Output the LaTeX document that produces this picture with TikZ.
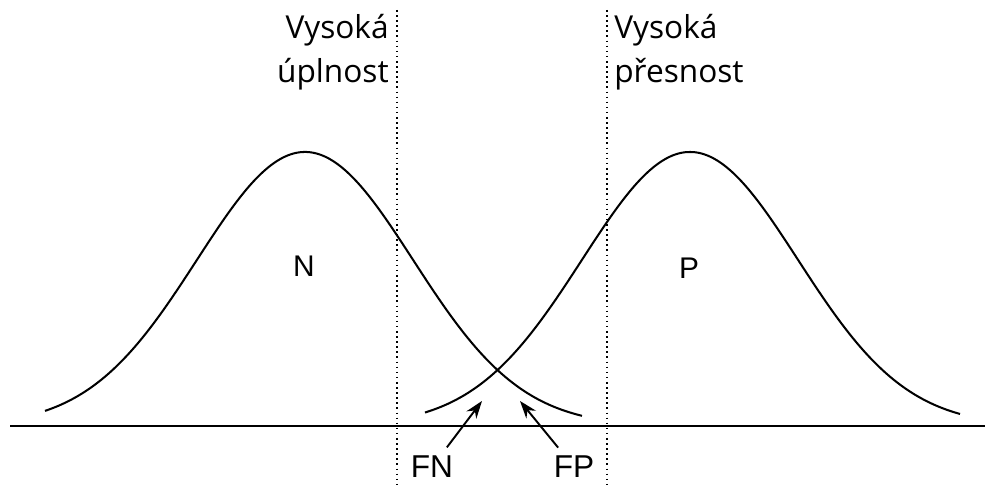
\documentclass[tikz,border=0pt]{standalone}
\usepackage{fontspec}
\setmainfont{Liberation Sans}
\newfontfamily\toplabelfont{Open Sans}
\usetikzlibrary{arrows.meta,positioning}

\begin{document}
\begin{tikzpicture}[
    x=0.02cm, y=-0.02cm,
    curve/.style={line width=1.15pt},
    axis/.style={line width=1.5pt},
    threshold/.style={dotted,line width=0.9pt},
    toplabel/.style={font=\toplabelfont\fontsize{18}{25}\selectfont,inner sep=0pt},
    classlabel/.style={font=\fontsize{17}{20}\selectfont,inner sep=0pt},
    errlabel/.style={font=\fontsize{18}{20}\selectfont,inner sep=0pt},
    arrow/.style={-{Stealth[length=10pt,width=7pt]},line width=1.1pt,shorten <=6pt}
  ]
    \useasboundingbox (0,0) rectangle (985,486);

    % axis and thresholds
    \draw[axis] (10,426) -- (985,426);
    \draw[threshold] (397,10) -- (397,486);
    \draw[threshold] (607,10) -- (607,486);

    % the two classes
    \draw[curve] plot[domain=45:582,samples=120,smooth]
      (\x,{426-274*exp(-0.5*((\x-305)/108)^2)});
    \draw[curve] plot[domain=425:960,samples=120,smooth]
      (\x,{426-274*exp(-0.5*((\x-690)/108)^2)});

    \node[toplabel,anchor=north east,align=right] (recall) at (389,14) {Vysoká\\úplnost};
    \node[toplabel,anchor=north west,align=left]  (precision) at (614,14) {Vysoká\\přesnost};

    \node[classlabel] (neg) at (304,266) {N};
    \node[classlabel] (pos) at (689,268) {P};

    \node[errlabel] (fn) at (432,467) {FN};
    \node[errlabel] (fp) at (574,467) {FP};
    \coordinate (fntip) at (482,401);
    \coordinate (fptip) at (520,401);
    \draw[arrow] (fn) -- (fntip);
    \draw[arrow] (fp) -- (fptip);
\end{tikzpicture}
\end{document}
